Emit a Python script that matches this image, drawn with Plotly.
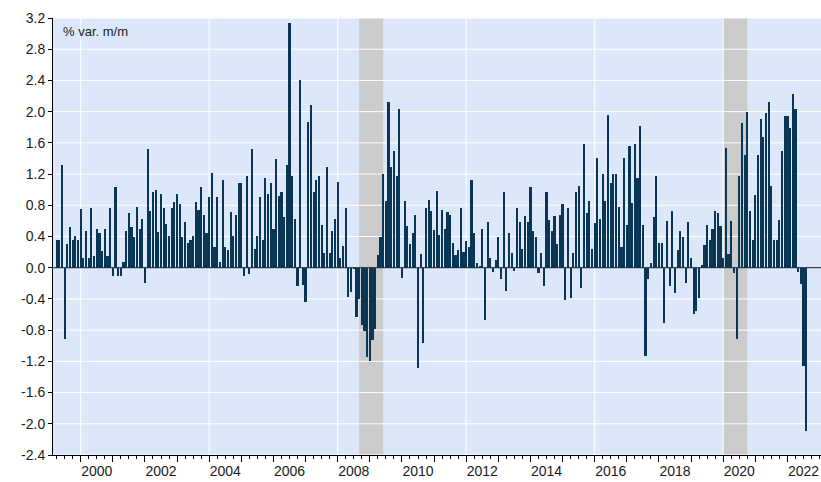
import plotly.graph_objects as go
import pandas as pd

# ---------------- data ----------------
start_period = "1999-04"
mom_change = [
    0.36, 0.35, 1.31, -0.91, 0.31, 0.52, 0.36, 0.41, 0.36, 0.75, 0.12, 0.47,
    0.13, 0.77, 0.15, 0.49, 0.44, 0.22, 0.49, 0.15, 0.77, -0.10, 1.04, -0.10,
    -0.10, 0.07, 0.47, 0.70, 0.52, 0.39, 0.78, 0.50, 0.63, -0.20, 1.52, 0.73,
    0.97, 1.00, 0.46, 0.94, 0.76, 0.56, 0.41, 0.76, 0.84, 0.94, 0.82, 0.39,
    0.59, 0.32, 0.35, 0.41, 0.84, 0.74, 1.03, 0.68, 0.44, 0.90, 1.21, 0.26,
    0.90, 0.07, 1.12, 0.26, 0.23, 0.71, 0.41, 0.68, 1.09, 1.09, -0.10, 1.17,
    -0.08, 1.52, 0.24, 0.41, 0.90, 0.35, 1.15, 0.94, 1.08, 0.50, 1.39, 0.92,
    0.97, 0.65, 1.32, 3.13, 1.18, 0.62, -0.24, 2.41, -0.22, -0.44, 1.87, 2.09,
    0.97, 1.13, 1.18, 0.55, 0.19, 1.29, 0.19, 0.47, 0.62, 1.10, 0.12, 0.28,
    0.77, -0.37, -0.31, -0.02, -0.63, -0.40, -0.74, -0.81, -1.14, -1.20, -0.93, -0.78,
    0.16, 0.39, 1.20, 0.85, 2.12, 1.29, 1.50, 1.18, 2.03, -0.13, 0.85, 0.53,
    0.31, 0.45, 0.68, -1.29, 0.18, -0.96, 0.76, 0.87, 0.73, 0.48, 0.98, 0.42,
    0.74, 0.50, 0.71, 0.68, 0.32, 0.16, 0.23, 0.77, 0.20, 0.34, 0.26, 1.13,
    0.44, 0.06, 0.02, 0.50, -0.67, 0.59, 0.13, -0.06, 0.10, 0.39, -0.14, 0.97,
    -0.30, 0.44, 0.19, -0.04, 0.77, 0.59, 0.24, 0.66, 0.59, 1.04, 0.47, 0.39,
    -0.07, 0.19, -0.24, 0.97, 0.61, 0.47, 0.66, 0.31, 0.68, 0.82, -0.41, 0.77,
    -0.39, 0.19, 0.97, 1.05, -0.26, 1.58, 0.70, 0.85, 0.24, 0.57, 1.40, 0.63,
    1.20, 0.85, 1.96, 1.08, 1.20, 1.20, 0.78, 0.26, 1.40, 0.55, 1.56, 0.83,
    1.59, 1.15, 1.82, 0.55, -1.13, -0.14, 0.06, 0.65, 1.17, 0.32, 0.32, -0.71,
    0.60, -0.24, 0.73, -0.32, 0.23, 0.47, 0.39, -0.19, 0.59, 0.12, -0.59, -0.56,
    -0.39, 0.03, 0.29, 0.55, 0.35, 0.50, 0.73, 0.70, 0.53, 0.13, 1.53, 0.18,
    0.60, -0.07, -0.91, 1.18, 1.85, 1.45, 2.00, 0.73, 0.35, 0.93, 1.45, 1.90,
    1.67, 1.98, 2.12, 1.05, 0.35, 0.36, 0.61, 1.49, 1.94, 1.94, 1.79, 2.22,
    2.03, -0.05, -0.21, -1.26, -2.09,
]

recessions = [("2008-09", "2009-05"), ("2020-01", "2020-09")]

y_ticks = [-2.4, -2.0, -1.6, -1.2, -0.8, -0.4, 0.0, 0.4, 0.8, 1.2, 1.6, 2.0, 2.4, 2.8, 3.2]
y_tick_text = ["-2.4", "-2.0", "-1.6", "-1.2", "-0.8", "-0.4", "0.0", "0.4", "0.8",
               "1.2", "1.6", "2.0", "2.4", "2.8", "3.2"]
grid_years = [2000, 2004, 2008, 2012, 2016, 2020]
tick_years = list(range(2000, 2023))
label_years = [2000, 2002, 2004, 2006, 2008, 2010, 2012, 2014, 2016, 2018, 2020, 2022]
unit_label = "% var. m/m"

# ---------------- styling ----------------
BG = "#DCE8FA"
BAR = "#0A3656"
SHADE = "#CBCBCB"
FONT = "Liberation Sans, Arial, sans-serif"
X_RANGE = [1999.138, 2023.045]
Y_RANGE = [-2.4, 3.2]

periods = pd.period_range(start=start_period, periods=len(mom_change), freq="M")
x_pos = [p.year + (p.month - 1) / 12 for p in periods]


def to_dec(per, end=False):
    p = pd.Period(per, freq="M")
    return p.year + (p.month - 1) / 12 + (1 / 12 if end else 0)


fig = go.Figure()
fig.add_trace(go.Bar(
    x=x_pos, y=mom_change, width=0.8 / 12,
    marker=dict(color=BAR, line=dict(width=0)),
    hoverinfo="skip", showlegend=False,
))

shapes = []
for s, e in recessions:
    shapes.append(dict(type="rect", xref="x", yref="paper", x0=to_dec(s), x1=to_dec(e, True),
                       y0=0, y1=1, fillcolor=SHADE, line=dict(width=0), layer="below"))
for yv in y_ticks:
    if yv == 0:
        continue
    shapes.append(dict(type="line", xref="paper", yref="y", x0=0, x1=1, y0=yv, y1=yv,
                       line=dict(color="white", width=1), layer="below"))
for gy in grid_years:
    shapes.append(dict(type="line", xref="x", yref="paper", x0=gy, x1=gy, y0=0, y1=1,
                       line=dict(color="white", width=1), layer="below"))
shapes.append(dict(type="line", xref="paper", yref="y", x0=0, x1=1, y0=0, y1=0,
                   line=dict(color="#1a1a1a", width=1), layer="below"))

fig.update_layout(
    width=821, height=482,
    margin=dict(l=53, r=0, t=18, b=27),
    paper_bgcolor="white", plot_bgcolor=BG,
    font=dict(family=FONT, size=14, color="#1a1a1a"),
    bargap=0, shapes=shapes,
    xaxis=dict(
        range=X_RANGE, showgrid=False, zeroline=False,
        showline=True, linecolor="black", linewidth=1,
        tickmode="array", tickvals=tick_years, ticktext=["" for _ in tick_years],
        ticks="outside", ticklen=6, tickcolor="black", tickwidth=1,
        minor=dict(dtick=0.25, tick0=2000, ticks="outside", ticklen=3,
                   tickcolor="black", showgrid=False),
        automargin=False,
    ),
    xaxis2=dict(
        range=X_RANGE, overlaying="x", anchor="y", side="bottom",
        showgrid=False, zeroline=False, showline=False,
        tickmode="array", tickvals=[y + 0.5 for y in label_years],
        ticktext=[str(y) for y in label_years],
        ticks="", ticklabelstandoff=6, tickfont=dict(size=14),
        automargin=False,
    ),
    yaxis=dict(
        range=Y_RANGE, showgrid=False, zeroline=False,
        showline=True, linecolor="black", linewidth=1,
        tickmode="array", tickvals=y_ticks, ticktext=y_tick_text,
        ticks="outside", ticklen=4, tickcolor="black",
        automargin=False,
    ),
    annotations=[dict(text=unit_label, xref="paper", yref="paper", x=0.0104, y=0.968,
                      xanchor="left", yanchor="middle", showarrow=False,
                      font=dict(size=13, color="#1a1a1a"))],
)

# invisible trace to activate the label axis
fig.add_trace(go.Scatter(x=[X_RANGE[0]], y=[0], xaxis="x2", mode="markers",
                         marker=dict(opacity=0), hoverinfo="skip", showlegend=False))

fig.write_html(
    "out.html",
    config={"displayModeBar": False, "staticPlot": True},
    post_script="document.body.style.margin='0';document.body.style.overflow='hidden';",
)
